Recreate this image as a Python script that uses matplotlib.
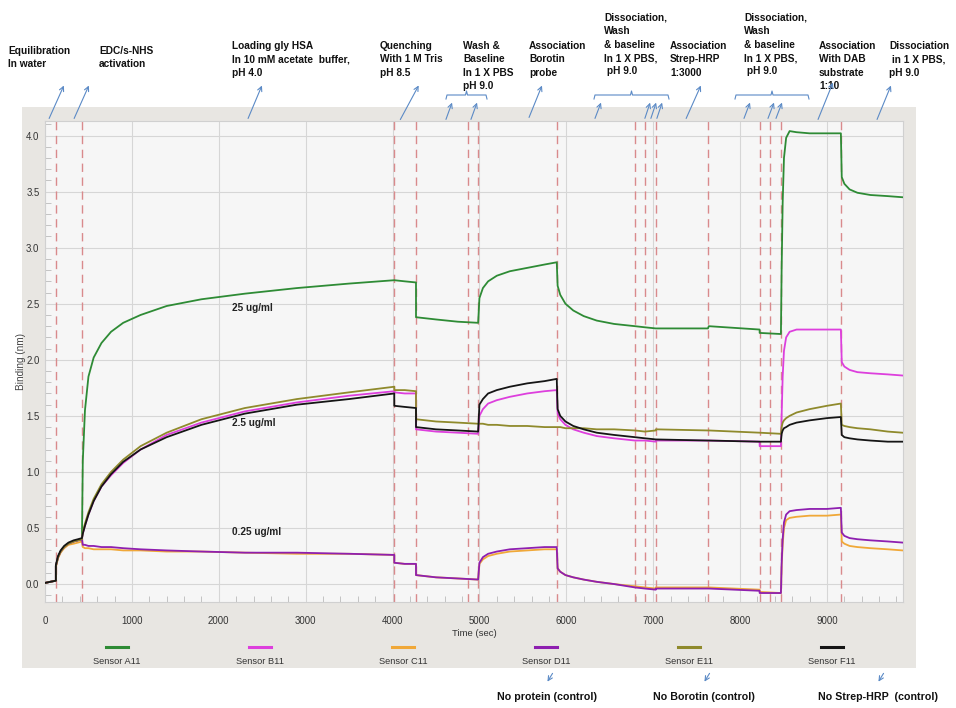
import matplotlib.pyplot as plt
import matplotlib.transforms as mtransforms
from matplotlib.lines import Line2D
from matplotlib.patches import Rectangle, FancyArrowPatch
from matplotlib.ticker import MultipleLocator

W, H = 956, 708

# time points (s); a time listed twice marks a step between assay stages
time_s = [
    0, 60, 125,
    125, 150, 180, 220, 270, 330, 380, 425,
    425, 435, 460, 500, 560, 650, 760, 900, 1100, 1400, 1800, 2300, 2900, 3500, 4020,
    4020, 4140, 4270,
    4270, 4500, 4750, 4985,
    4985, 5000, 5040, 5100, 5200, 5350, 5550, 5750, 5890,
    5890, 5900, 5930, 5990, 6080, 6200, 6350, 6550, 6790, 6905, 7030,
    7030, 7630, 7640, 8225,
    8225, 8470,
    8470, 8478, 8490, 8505, 8530, 8570, 8650, 8800, 9000, 9160,
    9160, 9170, 9200, 9260, 9350, 9500, 9700, 9870,
]

# binding (nm) per sensor, same grouping as time_s
sensor_a11 = [
    0.01, 0.02, 0.03,
    0.16, 0.24, 0.29, 0.33, 0.36, 0.38, 0.39, 0.40,
    0.40, 1.10, 1.55, 1.85, 2.02, 2.15, 2.25, 2.33, 2.40, 2.48, 2.54, 2.59, 2.64, 2.68, 2.71,
    2.71, 2.70, 2.69,
    2.38, 2.36, 2.34, 2.33,
    2.33, 2.55, 2.64, 2.70, 2.75, 2.79, 2.82, 2.85, 2.87,
    2.87, 2.66, 2.58, 2.50, 2.44, 2.39, 2.35, 2.32, 2.30, 2.29, 2.28,
    2.28, 2.28, 2.30, 2.27,
    2.24, 2.23,
    2.23, 2.80, 3.40, 3.80, 3.98, 4.04, 4.03, 4.02, 4.02, 4.02,
    4.02, 3.63, 3.57, 3.52, 3.49, 3.47, 3.46, 3.45,
]
sensor_b11 = [
    0.01, 0.02, 0.03,
    0.16, 0.24, 0.29, 0.33, 0.36, 0.38, 0.39, 0.40,
    0.40, 0.45, 0.52, 0.62, 0.74, 0.87, 0.97, 1.08, 1.20, 1.33, 1.44, 1.54, 1.62, 1.68, 1.72,
    1.71, 1.70, 1.70,
    1.38, 1.36, 1.35, 1.34,
    1.34, 1.50, 1.56, 1.61, 1.64, 1.67, 1.70, 1.72, 1.73,
    1.73, 1.52, 1.47, 1.42, 1.38, 1.35, 1.32, 1.30, 1.28, 1.28, 1.27,
    1.28, 1.28, 1.28, 1.27,
    1.23, 1.23,
    1.23, 1.50, 1.85, 2.08, 2.20, 2.25, 2.27, 2.27, 2.27, 2.27,
    2.27, 1.98, 1.94, 1.91, 1.89, 1.88, 1.87, 1.86,
]
sensor_c11 = [
    0.01, 0.02, 0.03,
    0.15, 0.23, 0.28, 0.32, 0.35, 0.36, 0.37, 0.38,
    0.38, 0.33, 0.32, 0.32, 0.31, 0.31, 0.31, 0.30, 0.30, 0.29, 0.29, 0.28, 0.27, 0.27, 0.26,
    0.19, 0.18, 0.18,
    0.08, 0.06, 0.05, 0.04,
    0.04, 0.18, 0.22, 0.25, 0.27, 0.29, 0.30, 0.31, 0.31,
    0.31, 0.14, 0.11, 0.08, 0.06, 0.04, 0.02, 0.00, -0.02, -0.03, -0.04,
    -0.03, -0.03, -0.03, -0.05,
    -0.07, -0.08,
    -0.08, 0.15, 0.35, 0.50, 0.57, 0.59, 0.60, 0.61, 0.61, 0.62,
    0.62, 0.38, 0.36, 0.34, 0.33, 0.32, 0.31, 0.30,
]
sensor_d11 = [
    0.01, 0.02, 0.03,
    0.16, 0.24, 0.29, 0.33, 0.36, 0.38, 0.39, 0.40,
    0.40, 0.35, 0.35, 0.34, 0.34, 0.33, 0.33, 0.32, 0.31, 0.30, 0.29, 0.28, 0.28, 0.27, 0.26,
    0.19, 0.18, 0.18,
    0.08, 0.06, 0.05, 0.04,
    0.04, 0.19, 0.24, 0.27, 0.29, 0.31, 0.32, 0.33, 0.33,
    0.33, 0.14, 0.11, 0.08, 0.06, 0.04, 0.02, 0.00, -0.03, -0.04, -0.05,
    -0.04, -0.04, -0.04, -0.06,
    -0.08, -0.08,
    -0.08, 0.18, 0.40, 0.55, 0.62, 0.65, 0.66, 0.67, 0.67, 0.68,
    0.68, 0.46, 0.43, 0.41, 0.40, 0.39, 0.38, 0.37,
]
sensor_e11 = [
    0.01, 0.02, 0.03,
    0.16, 0.24, 0.29, 0.33, 0.36, 0.38, 0.39, 0.40,
    0.40, 0.46, 0.54, 0.64, 0.76, 0.89, 1.00, 1.11, 1.23, 1.35, 1.47, 1.57, 1.65, 1.71, 1.76,
    1.73, 1.73, 1.72,
    1.47, 1.45, 1.44, 1.43,
    1.43, 1.43, 1.43, 1.42, 1.42, 1.41, 1.41, 1.40, 1.40,
    1.40, 1.40, 1.40, 1.39, 1.39, 1.39, 1.38, 1.38, 1.37, 1.36, 1.37,
    1.38, 1.37, 1.37, 1.35,
    1.35, 1.34,
    1.34, 1.40, 1.44, 1.46, 1.48, 1.50, 1.53, 1.56, 1.59, 1.61,
    1.61, 1.42, 1.41, 1.40, 1.39, 1.38, 1.36, 1.35,
]
sensor_f11 = [
    0.01, 0.02, 0.03,
    0.17, 0.25, 0.30, 0.34, 0.37, 0.39, 0.40, 0.41,
    0.41, 0.45, 0.52, 0.62, 0.74, 0.87, 0.98, 1.09, 1.20, 1.31, 1.42, 1.52, 1.60, 1.65, 1.70,
    1.59, 1.58, 1.57,
    1.40, 1.38, 1.37, 1.36,
    1.36, 1.60, 1.65, 1.70, 1.73, 1.76, 1.79, 1.81, 1.83,
    1.83, 1.56, 1.50, 1.45, 1.41, 1.38, 1.35, 1.33, 1.31, 1.30, 1.29,
    1.29, 1.28, 1.28, 1.27,
    1.27, 1.27,
    1.27, 1.34, 1.37, 1.39, 1.40, 1.42, 1.44, 1.46, 1.48, 1.49,
    1.49, 1.33, 1.31, 1.30, 1.29, 1.28, 1.27, 1.27,
]

sensor_names = ["Sensor A11", "Sensor B11", "Sensor C11", "Sensor D11", "Sensor E11", "Sensor F11"]
sensor_values = [sensor_a11, sensor_b11, sensor_c11, sensor_d11, sensor_e11, sensor_f11]
sensor_colors = ["#2e8b35", "#dd3fdd", "#f0a838", "#8e1fb0", "#8f8a2c", "#151515"]

# step changes (s)
stage_bounds = [125, 425, 4020, 4270, 4870, 4985, 5890, 6790, 6905, 7030,
                7630, 8225, 8345, 8470, 9160]

conc_labels = [(2150, 2.46, "25 ug/ml"), (2150, 1.44, "2.5 ug/ml"), (2150, 0.46, "0.25 ug/ml")]

sans = ["Liberation Sans", "DejaVu Sans"]

fig = plt.figure(figsize=(W / 100, H / 100), dpi=100)
fig.patch.set_facecolor("white")
# top-left pixel coordinates for the notes around the plot
px = mtransforms.Affine2D().scale(1 / W, -1 / H).translate(0, 1) + fig.transFigure

fig.add_artist(Rectangle((22, 107), 894, 561, transform=px, facecolor="#e8e6e2",
                         edgecolor="none", zorder=0))

ax = fig.add_axes([45 / W, 1 - 602 / H, 858 / W, 481 / H])
ax.set_facecolor("#f6f6f6")
ax.set_zorder(1)

for vals, col in zip(sensor_values, sensor_colors):
    ax.plot(time_s, vals, color=col, lw=1.3, zorder=3)

for b in stage_bounds:
    ax.axvline(b, color="#d98a8c", lw=1.0, ls=(0, (6, 4)), zorder=2)

for x, y, s in conc_labels:
    ax.text(x, y, s, fontsize=7.2, fontweight="bold", family=sans, va="center", color="#222")

ax.set_xlim(0, 9875)
ax.set_ylim(-0.16, 4.13)
ax.xaxis.set_major_locator(MultipleLocator(1000))
ax.xaxis.set_minor_locator(MultipleLocator(200))
ax.yaxis.set_minor_locator(MultipleLocator(0.1))
ax.grid(which="major", color="#d6d6d6", lw=0.8, zorder=1)
ax.tick_params(which="major", length=0, labelsize=6.9, labelcolor="#333")
ax.tick_params(axis="x", which="major", pad=10)
ax.tick_params(axis="y", which="major", pad=4)
ax.tick_params(which="minor", direction="in", length=4, color="#bbbbbb", width=0.6)
ax.set_yticks([0.0, 0.5, 1.0, 1.5, 2.0, 2.5, 3.0, 3.5, 4.0])
ax.set_yticklabels(["0.0", "0.5", "1.0", "1.5", "2.0", "2.5", "3.0", "3.5", "4.0"])
for lab in ax.get_xticklabels() + ax.get_yticklabels():
    lab.set_family(sans)
for sp in ax.spines.values():
    sp.set_color("#d0d0d0")
    sp.set_linewidth(0.8)
ax.set_xlabel("Time (sec)", fontsize=6.8, family=sans, color="#333", labelpad=2)
ax.set_ylabel("Binding (nm)", fontsize=7.2, family=sans, color="#444", labelpad=0)

# legend below the axis
for i, (name, col) in enumerate(zip(sensor_names, sensor_colors)):
    cx = 117 + 143 * i
    fig.add_artist(Line2D([cx - 11, cx + 11], [647, 647], transform=px, color=col, lw=2.2))
    fig.text(cx, 661, name, transform=px, ha="center", va="center", fontsize=6.7,
             family=sans, color="#333")

# stage notes above the plot
stage_notes = [
    (8, 46, "Equilibration\nIn water"),
    (99, 46, "EDC/s-NHS\nactivation"),
    (232, 41, "Loading gly HSA\nIn 10 mM acetate  buffer,\npH 4.0"),
    (380, 41, "Quenching\nWith 1 M Tris\npH 8.5"),
    (463, 41, "Wash &\nBaseline\nIn 1 X PBS\npH 9.0"),
    (529, 41, "Association\nBorotin\nprobe"),
    (604, 13, "Dissociation,\nWash\n& baseline\nIn 1 X PBS,\n pH 9.0"),
    (670, 41, "Association\nStrep-HRP\n1:3000"),
    (744, 13, "Dissociation,\nWash\n& baseline\nIn 1 X PBS,\n pH 9.0"),
    (819, 41, "Association\nWith DAB\nsubstrate\n1:10"),
    (889, 41, "Dissociation\n in 1 X PBS,\npH 9.0"),
]
for x, y, s in stage_notes:
    fig.text(x, y, s, transform=px, ha="left", va="top", fontsize=7.3,
             fontweight="bold", family=sans, linespacing=1.42, color="#111")

arrow_col = "#5b8ac6"
note_arrows = [
    (48, 121, 65, 83), (73, 121, 90, 83), (247, 121, 263, 83), (399, 122, 420, 83),
    (445, 122, 453, 100), (470, 122, 478, 100),
    (528, 120, 543, 83),
    (594, 121, 602, 100), (644, 121, 651, 100), (650, 121, 657, 100), (656, 121, 663, 100),
    (685, 121, 702, 83),
    (743, 121, 751, 100), (767, 121, 775, 100), (775, 121, 783, 100),
    (817, 122, 834, 80), (876, 122, 892, 83),
]
for x0, y0, x1, y1 in note_arrows:
    fig.add_artist(FancyArrowPatch((x0, y0), (x1, y1), transform=px, arrowstyle="->",
                                   mutation_scale=8, color=arrow_col, lw=0.8, zorder=5))

brackets = [(446, 487), (594, 669), (735, 809)]
for xa, xb in brackets:
    xm = (xa + xb) / 2
    fig.add_artist(Line2D([xa, xa + 1, xm - 1, xm, xm + 1, xb - 1, xb],
                          [99, 95, 95, 91, 95, 95, 99], transform=px, color=arrow_col, lw=0.8))

# controls below the legend
control_notes = [(547, "No protein (control)"), (704, "No Borotin (control)"),
                 (878, "No Strep-HRP  (control)")]
for cx, s in control_notes:
    fig.text(cx, 697, s, transform=px, ha="center", va="center", fontsize=7.7,
             fontweight="bold", family=sans, color="#111")
    fig.add_artist(FancyArrowPatch((cx + 7, 671), (cx - 1, 684), transform=px, arrowstyle="->",
                                   mutation_scale=8, color=arrow_col, lw=0.8))

fig.savefig("out.png", dpi=100)
